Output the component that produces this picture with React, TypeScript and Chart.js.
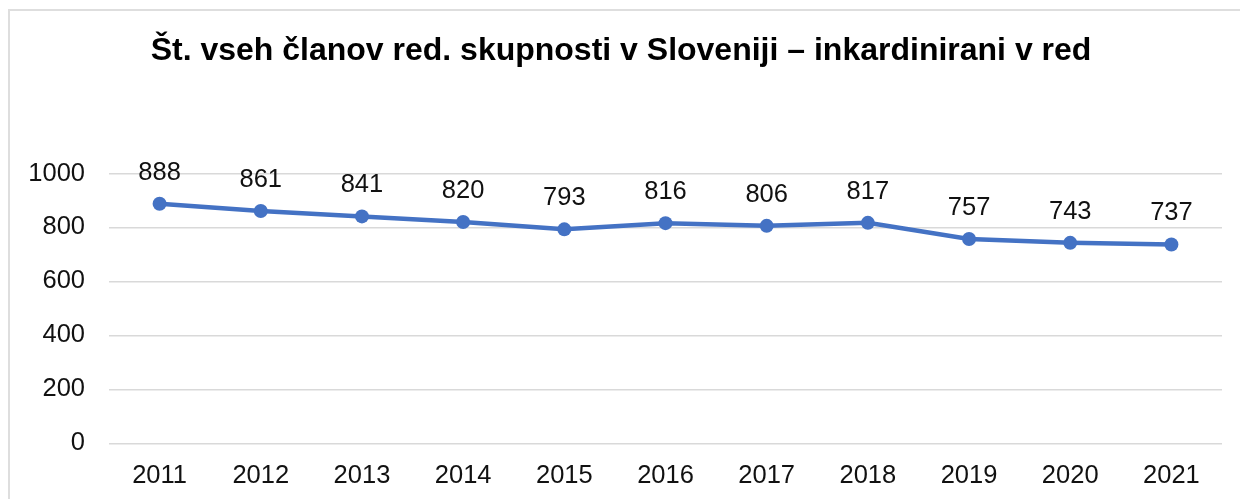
import React, { useEffect, useRef } from "react";
import { Chart, registerables } from "chart.js";

Chart.register(...registerables);

const TITLE = "Št. vseh članov red. skupnosti v Sloveniji – inkardinirani v red";
const years = ["2011", "2012", "2013", "2014", "2015", "2016", "2017", "2018", "2019", "2020", "2021"];
const members = [888, 861, 841, 820, 793, 816, 806, 817, 757, 743, 737];
const yTicks = [0, 200, 400, 600, 800, 1000];

const FONT = "'Liberation Sans', Arial, sans-serif";
const LINE_COLOR = "#4472C4";

const dataLabels = {
  id: "dataLabels",
  afterDatasetsDraw(chart: any) {
    const ctx = chart.ctx;
    const meta = chart.getDatasetMeta(0);
    ctx.save();
    ctx.font = `25.5px ${FONT}`;
    ctx.fillStyle = "#111";
    ctx.textAlign = "center";
    ctx.textBaseline = "alphabetic";
    meta.data.forEach((pt: any, i: number) => {
      ctx.fillText(String(members[i]), pt.x, pt.y - 24);
    });
    ctx.restore();
  },
};

export default function App() {
  const ref = useRef<HTMLCanvasElement | null>(null);
  useEffect(() => {
    if (!ref.current) return;
    const chart = new Chart(ref.current, {
      type: "line",
      data: {
        labels: years,
        datasets: [
          {
            data: members,
            borderColor: LINE_COLOR,
            backgroundColor: LINE_COLOR,
            borderWidth: 4.5,
            pointRadius: 7,
            pointHoverRadius: 7,
            pointBackgroundColor: LINE_COLOR,
            pointBorderColor: LINE_COLOR,
            pointBorderWidth: 0,
            tension: 0,
            clip: false as any,
          },
        ],
      },
      options: {
        responsive: false,
        animation: false,
        layout: { padding: { left: 20, right: 18, top: 0, bottom: 9.7 } },
        plugins: {
          legend: { display: false },
          tooltip: { enabled: false },
          title: {
            display: true,
            text: TITLE,
            color: "#000",
            font: { family: FONT, size: 32, weight: "bold", lineHeight: 1.2 },
            padding: { top: 32, bottom: 103.1 },
          },
        },
        scales: {
          x: {
            offset: true,
            afterFit: (scale: any) => {
              scale.height = 46;
            },
            grid: { display: false, drawTicks: false },
            border: { display: false },
            ticks: {
              color: "#111",
              padding: 17,
              font: { family: FONT, size: 25.5 },
              maxRotation: 0,
              autoSkip: false,
            },
          },
          y: {
            min: 0,
            max: 1000,
            afterFit: (scale: any) => {
              scale.width = 89;
            },
            afterBuildTicks: (scale: any) => {
              scale.ticks = yTicks.map((v) => ({ value: v }));
            },
            grid: { color: "#d9d9d9", lineWidth: 1.5, drawTicks: false },
            border: { display: false },
            ticks: {
              color: "#111",
              padding: 24,
              font: { family: FONT, size: 25.5 },
              callback: (v: any) => String(v),
            },
          },
        },
      },
      plugins: [dataLabels],
    });
    return () => chart.destroy();
  }, []);

  return (
    <div
      style={{
        position: "fixed",
        left: 0,
        top: 0,
        width: 1240,
        height: 499,
        overflow: "hidden",
        background: "#fff",
      }}
    >
      <div
        style={{
          position: "absolute",
          left: 8,
          top: 9,
          width: 1300,
          height: 600,
          borderLeft: "2px solid #dedede",
          borderTop: "2px solid #dedede",
        }}
      />
      <canvas
        ref={ref}
        width={1240}
        height={499}
        style={{ position: "absolute", left: 0, top: 0, width: 1240, height: 499 }}
      />
    </div>
  );
}
